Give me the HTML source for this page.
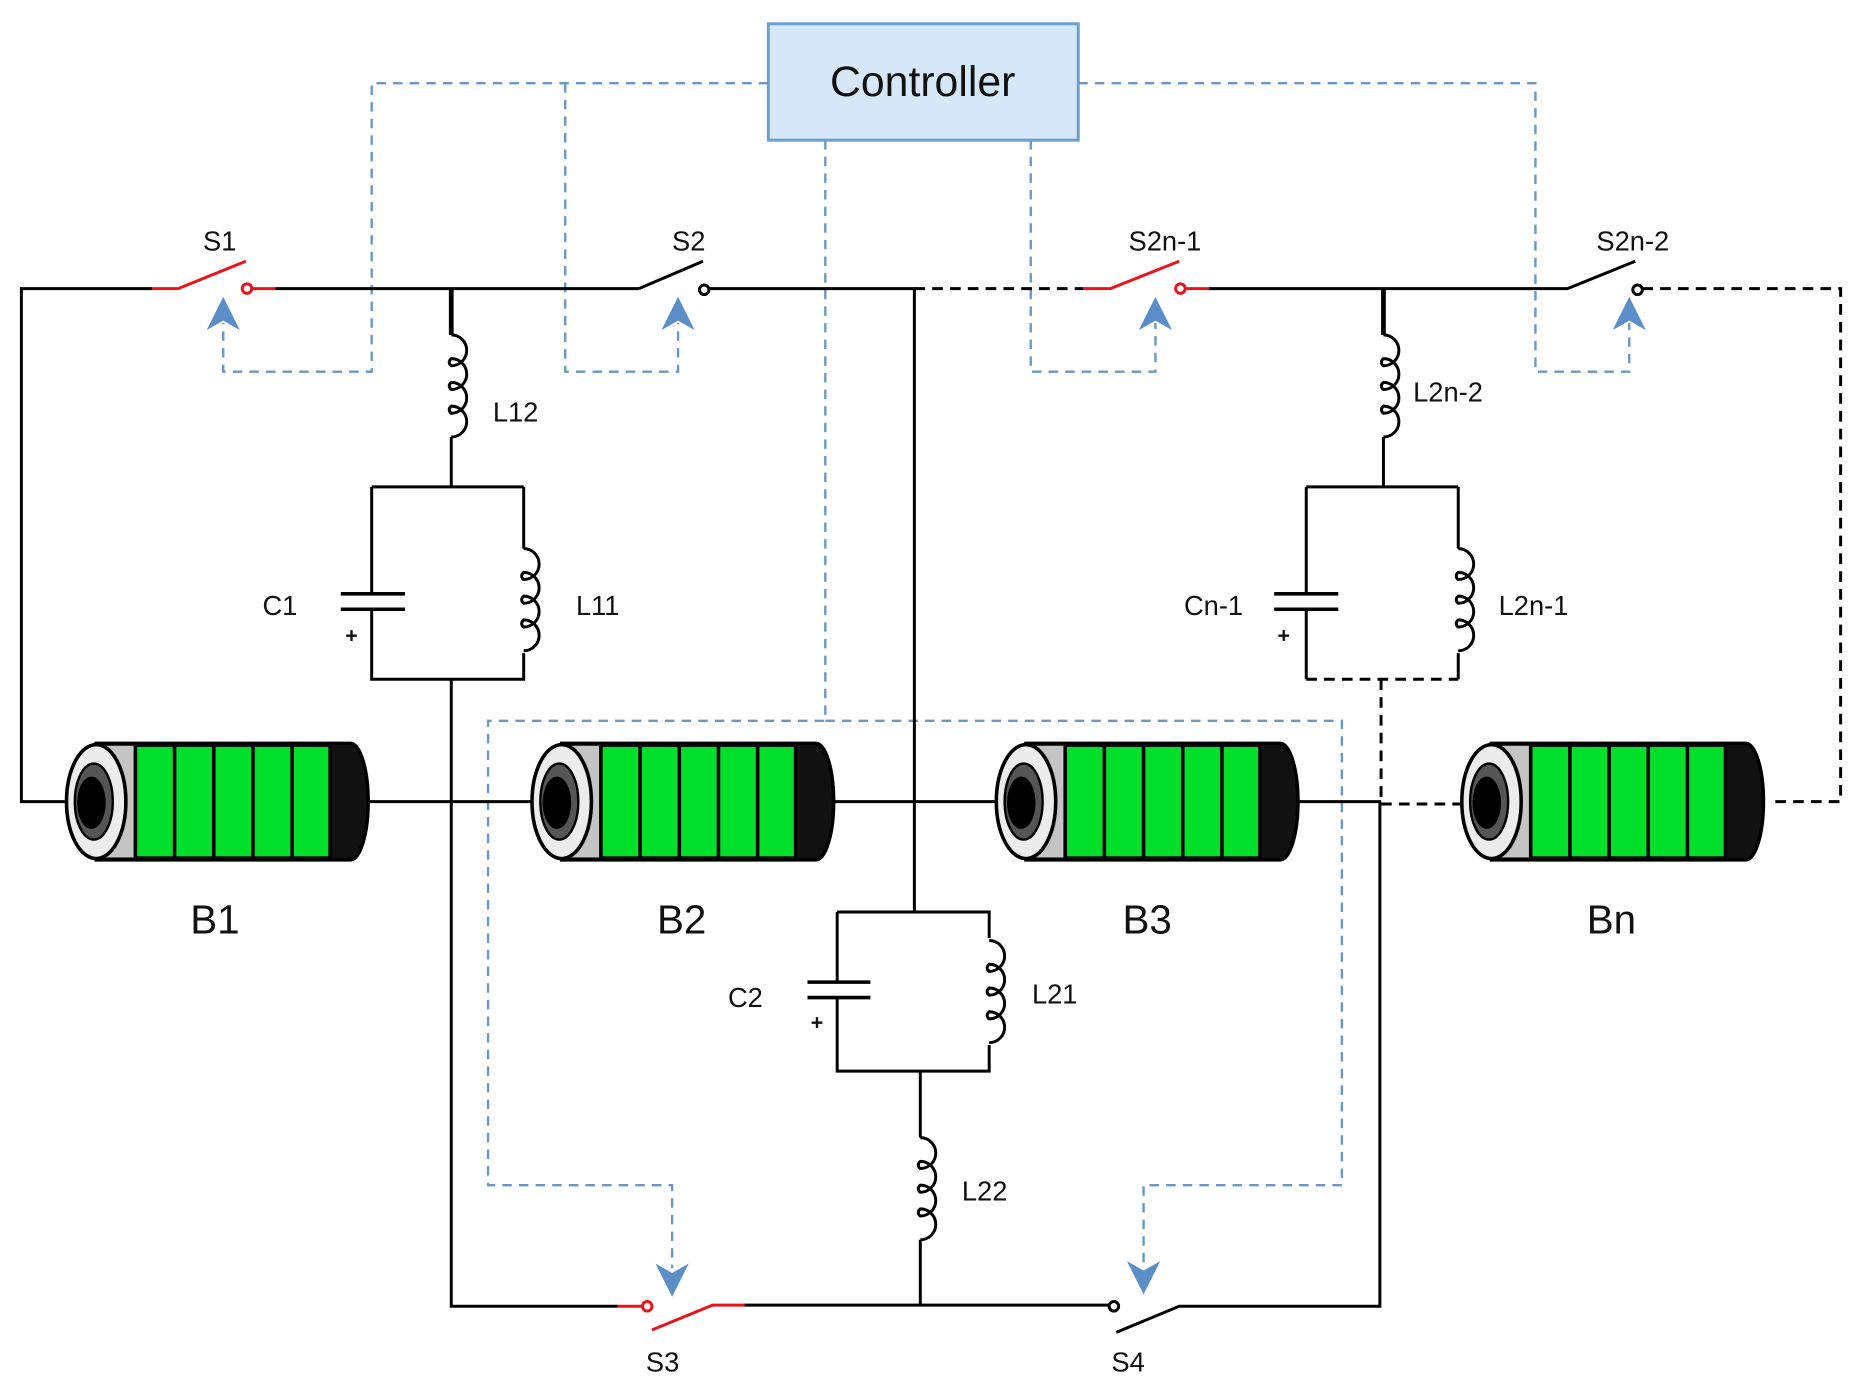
<!DOCTYPE html>
<html><head><style>html,body{margin:0;padding:0;background:#fff}svg{display:block}</style></head>
<body>
<svg width="1862" height="1393" viewBox="0 0 1568 1173" xmlns="http://www.w3.org/2000/svg" font-family="Liberation Sans, sans-serif">
<defs>
<g id="bat">
  <path d="M26 0 H240 A15 49 0 0 1 240 98 H26 Z" fill="#111" stroke="#000" stroke-width="3"/>
  <rect x="26" y="2" width="33" height="94" fill="#c4c4c4"/>
  <rect x="59" y="3" width="164" height="92" fill="#00e02a"/>
  <g stroke="#000" stroke-width="3"><line x1="59" y1="2" x2="59" y2="96"/><line x1="92" y1="2" x2="92" y2="96"/><line x1="125" y1="2" x2="125" y2="96"/><line x1="158" y1="2" x2="158" y2="96"/><line x1="191" y1="2" x2="191" y2="96"/><line x1="223" y1="2" x2="223" y2="96"/></g>
  <ellipse cx="26" cy="49" rx="25" ry="48" fill="#ececec" stroke="#000" stroke-width="3"/>
  <ellipse cx="24" cy="49" rx="16" ry="32" fill="#555" stroke="#000" stroke-width="2"/>
  <ellipse cx="22" cy="50" rx="12" ry="22" fill="#000"/>
</g>
<path id="coil" d="M0 0 A13 13 0 0 1 0 26 A5 4 0 0 1 0 20 A13 13 0 0 1 0 46 A5 4 0 0 1 0 40 A13 13 0 0 1 0 66 A5 4 0 0 1 0 60 A13 13 0 0 1 0 86" fill="none" stroke="#000" stroke-width="2.5"/>
<path id="arU" d="M0 0 L-14 28 L0 20 L14 28 Z" fill="#5b8ec8"/>
</defs>

<!-- blue dashed control lines -->
<g fill="none" stroke="#6a97c4" stroke-width="2" stroke-dasharray="8 6">
  <path d="M647 70 H313 V313 H188 V272"/>
  <path d="M476 70 V313 H571 V272"/>
  <path d="M908 70 H1293 V313 H1372 V272"/>
  <path d="M868 118 V313 H973 V272"/>
  <path d="M695 118 V607 H411 V998 H566 V1068"/>
  <path d="M695 607 H1130 V998 H963 V1066"/>
</g>
<use href="#arU" x="188" y="250"/>
<use href="#arU" x="571" y="250"/>
<use href="#arU" x="973" y="250"/>
<use href="#arU" x="1372" y="250"/>
<use href="#arU" transform="translate(566 1092) rotate(180)"/>
<use href="#arU" transform="translate(963 1090) rotate(180)"/>

<!-- controller -->
<rect x="647" y="20" width="261" height="98" fill="#d6e8f8" stroke="#6a9fd0" stroke-width="2.5"/>
<text x="777" y="81" font-size="36" text-anchor="middle" fill="#111">Controller</text>

<!-- black wires -->
<g fill="none" stroke="#000" stroke-width="2.5">
  <path d="M55 675 H18 V243 H128"/>
  <path d="M232 243 H538"/>
  <path d="M538 243 L592 220"/>
  <circle cx="593" cy="244" r="4"/>
  <path d="M597 243 H770 V768"/>
  <path d="M1018 243 H1320 L1377 220"/>
  <circle cx="1379" cy="244" r="4"/>
  <!-- L12 branch -->
  <path d="M380 243 V282" stroke-width="4"/>
  <path d="M380 368 V410 M313 410 H441 M313 410 V500 M313 513 V572 H441 V550 M441 410 V462 M380 572 V1100 H520"/>
  <path d="M287 500 H341 M287 513 H341" stroke-width="3"/>
  <!-- right L branch -->
  <path d="M1165 243 V282" stroke-width="4"/>
  <path d="M1165 368 V410 M1100 410 H1228 M1100 410 V500 M1100 513 V572 M1228 410 V462 M1228 550 V572"/>
  <path d="M1073 500 H1127 M1073 513 H1127" stroke-width="3"/>
  <!-- battery interconnects -->
  <path d="M310 675 H447 M702 675 H838 M1093 675 H1163"/>
  <!-- C2 block -->
  <path d="M705 768 H833 V790 M833 880 V902 H705 V840 M705 827 V768 M775 902 V958 M775 1044 V1100"/>
  <path d="M680 827 H733 M680 840 H733" stroke-width="3"/>
  <path d="M627 1099 H935"/>
  <circle cx="938" cy="1100" r="4"/>
  <path d="M940 1122 L993 1100 H1162 V675"/>
</g>
<!-- dashed black -->
<g fill="none" stroke="#000" stroke-width="2.5" stroke-dasharray="9 6">
  <path d="M770 243 H912"/>
  <path d="M1383 243 H1550 V675 H1490"/>
  <path d="M1100 572 H1228 M1163 572 V677 H1240"/>
</g>
<!-- red switches -->
<g fill="none" stroke="#e8141c" stroke-width="2.5">
  <path d="M128 243 H150 L207 220"/>
  <circle cx="208" cy="243" r="4"/>
  <path d="M212 243 H232"/>
  <path d="M912 243 H935 L993 220"/>
  <circle cx="994" cy="243" r="4"/>
  <path d="M998 243 H1018"/>
  <path d="M520 1100 H540"/>
  <circle cx="545" cy="1100" r="4"/>
  <path d="M549 1120 L600 1099 H627"/>
</g>
<!-- coils -->
<use href="#coil" x="380" y="282"/>
<use href="#coil" x="441" y="462"/>
<use href="#coil" x="1165" y="282"/>
<use href="#coil" x="1228" y="462"/>
<use href="#coil" x="833" y="792"/>
<use href="#coil" x="775" y="958"/>

<!-- batteries -->
<use href="#bat" x="55" y="626"/>
<use href="#bat" x="447" y="626"/>
<use href="#bat" x="838" y="626"/>
<use href="#bat" x="1230" y="626"/>

<!-- labels -->
<g font-size="23" fill="#111">
  <text x="185" y="211" text-anchor="middle">S1</text>
  <text x="580" y="211" text-anchor="middle">S2</text>
  <text x="981" y="211" text-anchor="middle">S2n-1</text>
  <text x="1375" y="211" text-anchor="middle">S2n-2</text>
  <text x="415" y="355">L12</text>
  <text x="221" y="518">C1</text>
  <text x="485" y="518">L11</text>
  <text x="1190" y="338">L2n-2</text>
  <text x="997" y="518">Cn-1</text>
  <text x="1262" y="518">L2n-1</text>
  <text x="613" y="848">C2</text>
  <text x="869" y="845">L21</text>
  <text x="810" y="1011">L22</text>
  <text x="558" y="1155" text-anchor="middle">S3</text>
  <text x="950" y="1155" text-anchor="middle">S4</text>
  <text x="296" y="541" text-anchor="middle" font-size="18" font-weight="bold">+</text>
  <text x="1081" y="541" text-anchor="middle" font-size="18" font-weight="bold">+</text>
  <text x="688" y="867" text-anchor="middle" font-size="18" font-weight="bold">+</text>
</g>
<g font-size="34" fill="#111" text-anchor="middle">
  <text x="181" y="786">B1</text>
  <text x="574" y="786">B2</text>
  <text x="966" y="786">B3</text>
  <text x="1357" y="786">Bn</text>
</g>
</svg>
</body></html>
